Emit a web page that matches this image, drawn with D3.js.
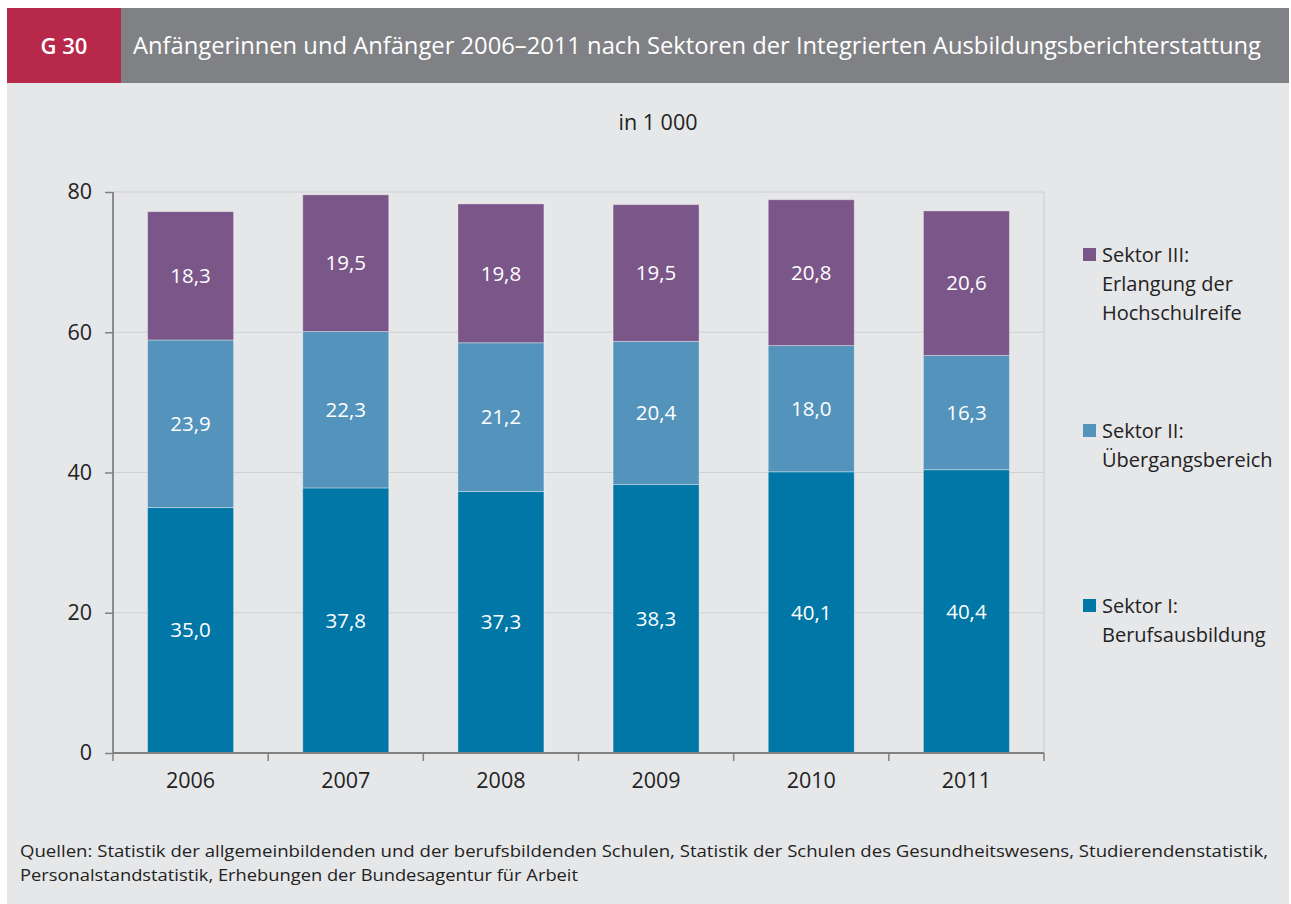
<!DOCTYPE html>
<html>
  <head>
    <meta charset="utf-8">
    <title>G 30</title>
    <script src="https://d3js.org/d3.v7.min.js" charset="utf-8"></script>
    <style>
      html, body { margin: 0; padding: 0; background: #fff; }
      body { font-family: "Open Sans", "Noto Sans", sans-serif; }
      svg { display: block; }
    </style>
  </head>
  <body>
    <div id="chart"></div>
    <script>
      // data
      var years = ["2006", "2007", "2008", "2009", "2010", "2011"];
      var sektorI = [35.0, 37.8, 37.3, 38.3, 40.1, 40.4];
      var sektorII = [23.9, 22.3, 21.2, 20.4, 18.0, 16.3];
      var sektorIII = [18.3, 19.5, 19.8, 19.5, 20.8, 20.6];
      var seriesNames = ["Sektor I", "Sektor II", "Sektor III"];
      var legendLabels = [
        ["Sektor III:", "Erlangung der", "Hochschulreife"],
        ["Sektor II:", "Übergangsbereich"],
        ["Sektor I:", "Berufsausbildung"]
      ];
      var yTicks = [0, 20, 40, 60, 80];

      var width = 1291, height = 904;
      var colors = { "Sektor I": "#0077a6", "Sektor II": "#5393bc", "Sektor III": "#7b5689" };

      var svg = d3.select("#chart").append("svg")
        .attr("width", width).attr("height", height);

      // panel + header
      svg.append("rect").attr("x", 7).attr("y", 83).attr("width", width - 9).attr("height", height - 83)
        .attr("fill", "#e6e7e9");
      svg.append("rect").attr("x", 7).attr("y", 8).attr("width", width - 9).attr("height", 75)
        .attr("fill", "#808185");
      svg.append("rect").attr("x", 7).attr("y", 8).attr("width", 114).attr("height", 75)
        .attr("fill", "#b8284b");
      svg.append("text").attr("x", 64).attr("y", 54).attr("text-anchor", "middle")
        .attr("fill", "#fff").attr("font-size", 22).attr("font-weight", 600)
        .text("G 30");
      svg.append("text").attr("x", 133).attr("y", 54)
        .attr("fill", "#fff").attr("font-size", 23).attr("font-weight", 500)
        .attr("textLength", 1128).attr("lengthAdjust", "spacingAndGlyphs")
        .text("Anfängerinnen und Anfänger 2006–2011 nach Sektoren der Integrierten Ausbildungsberichterstattung");

      svg.append("text").attr("x", 658).attr("y", 130).attr("text-anchor", "middle")
        .attr("fill", "#222").attr("font-size", 21.5).text("in 1 000");

      // plot area
      var plotL = 113, plotR = 1044, plotT = 192, plotB = 753;

      var x = d3.scaleBand().domain(years).range([plotL, plotR]).paddingInner(0).paddingOuter(0);
      var y = d3.scaleLinear().domain([0, 80]).range([plotB, plotT]);

      // grid
      svg.append("g").selectAll("line").data(yTicks.filter(function(d) { return d > 0; }))
        .enter().append("line")
        .attr("x1", plotL).attr("x2", plotR)
        .attr("y1", function(d) { return y(d); }).attr("y2", function(d) { return y(d); })
        .attr("stroke", "#cfd0d3").attr("stroke-width", 1.2);
      svg.append("line").attr("x1", plotR).attr("x2", plotR).attr("y1", plotT).attr("y2", plotB)
        .attr("stroke", "#cfd0d3").attr("stroke-width", 1.2);

      // stacked bars
      var rows = years.map(function(yr, i) {
        return { year: yr, "Sektor I": sektorI[i], "Sektor II": sektorII[i], "Sektor III": sektorIII[i] };
      });
      var stack = d3.stack().keys(seriesNames)(rows);
      var barW = 86;

      var groups = svg.append("g").selectAll("g").data(stack).enter().append("g")
        .attr("fill", function(d) { return colors[d.key]; });
      groups.selectAll("rect").data(function(d) { return d; }).enter().append("rect")
        .attr("x", function(d) { return x(d.data.year) + (x.bandwidth() - barW) / 2; })
        .attr("width", barW)
        .attr("y", function(d) { return y(d[1]); })
        .attr("height", function(d) { return y(d[0]) - y(d[1]); })
        .attr("stroke", "rgba(255,255,255,0.35)").attr("stroke-width", 1);
      groups.selectAll("text").data(function(d) { return d; }).enter().append("text")
        .attr("x", function(d) { return x(d.data.year) + x.bandwidth() / 2; })
        .attr("y", function(d) { return (y(d[0]) + y(d[1])) / 2; })
        .attr("dy", "0.35em").attr("text-anchor", "middle")
        .attr("fill", "#fff").attr("font-size", 20.5)
        .text(function(d) { return d3.format(".1f")(d[1] - d[0]).replace(".", ","); });

      // axes
      var yAxis = svg.append("g").attr("transform", "translate(" + plotL + ",0)")
        .call(d3.axisLeft(y).tickValues(yTicks).tickSize(8).tickPadding(13));
      var xAxis = svg.append("g").attr("transform", "translate(0," + plotB + ")")
        .call(d3.axisBottom(x).tickSize(0).tickPadding(20));
      // x tick marks at band boundaries
      svg.append("g").selectAll("line").data(years.concat([null])).enter().append("line")
        .attr("x1", function(d, i) { return plotL + i * x.bandwidth(); })
        .attr("x2", function(d, i) { return plotL + i * x.bandwidth(); })
        .attr("y1", plotB).attr("y2", plotB + 8)
        .attr("stroke", "#808080").attr("stroke-width", 1.5);

      [yAxis, xAxis].forEach(function(ax) {
        ax.select(".domain").attr("stroke", "#808080").attr("stroke-width", 1.8);
        ax.selectAll(".tick line").attr("stroke", "#808080").attr("stroke-width", 1.5);
        ax.selectAll(".tick text").attr("fill", "#222").attr("font-size", 21.5)
          .attr("font-family", "'Open Sans', 'Noto Sans', sans-serif");
      });
      xAxis.select(".domain").attr("d", "M" + plotL + ",0H" + plotR);
      yAxis.select(".domain").attr("d", "M0," + plotB + "V" + plotT);

      // legend
      var legendY = [262, 438, 613];
      var legendKeys = ["Sektor III", "Sektor II", "Sektor I"];
      var lg = svg.append("g").selectAll("g").data(legendKeys).enter().append("g");
      lg.append("rect").attr("x", 1083).attr("y", function(d, i) { return legendY[i] - 14; })
        .attr("width", 13).attr("height", 13).attr("fill", function(d) { return colors[d]; });
      lg.append("text").attr("x", 1102).attr("y", function(d, i) { return legendY[i]; })
        .attr("fill", "#222").attr("font-size", 20)
        .selectAll("tspan").data(function(d, i) { return legendLabels[i]; }).enter().append("tspan")
        .attr("x", 1102).attr("dy", function(d, j) { return j === 0 ? 0 : 29; })
        .text(function(d) { return d; });

      // footnote
      var foot = svg.append("text").attr("fill", "#222").attr("font-size", 16);
      foot.append("tspan").attr("x", 20).attr("y", 857)
        .attr("textLength", 1248).attr("lengthAdjust", "spacingAndGlyphs")
        .text("Quellen: Statistik der allgemeinbildenden und der berufsbildenden Schulen,  Statistik der Schulen des Gesundheitswesens, Studierendenstatistik,");
      foot.append("tspan").attr("x", 20).attr("y", 881)
        .attr("textLength", 558).attr("lengthAdjust", "spacingAndGlyphs")
        .text("Personalstandstatistik, Erhebungen der Bundesagentur für Arbeit");
    </script>
  </body>
</html>
